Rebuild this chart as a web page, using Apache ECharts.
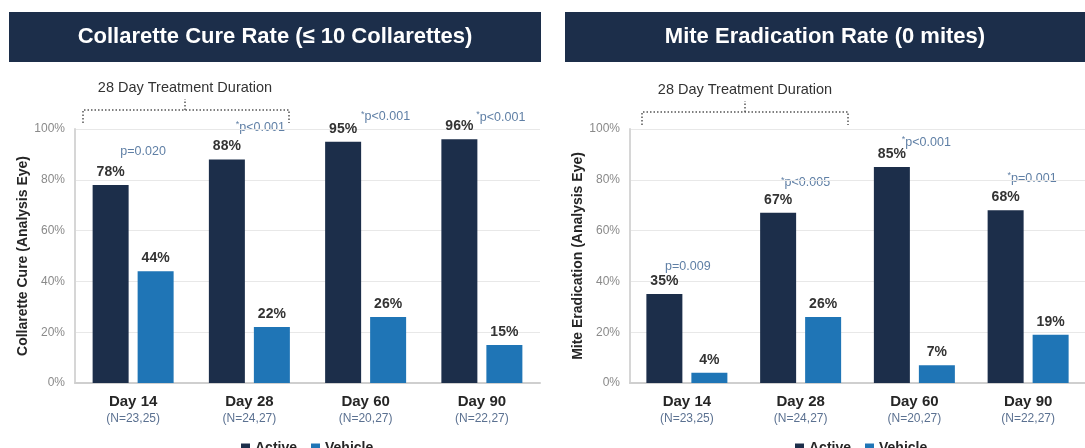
<!DOCTYPE html>
<html>
<head>
<meta charset="utf-8">
<script src="https://cdn.jsdelivr.net/npm/echarts@6/dist/echarts.min.js"></script>
<style>
    html, body { margin: 0; padding: 0; background: #fff; }
    #chart { width: 1085px; height: 448px; }
</style>
</head>
<body>
<div id="chart"></div>
<script>
    const categories = ['Day 14', 'Day 28', 'Day 60', 'Day 90']
    const nLabels = ['(N=23,25)', '(N=24,27)', '(N=20,27)', '(N=22,27)']
    const cureActive = [78, 88, 95, 96]
    const cureVehicle = [44, 22, 26, 15]
    const miteActive = [35, 67, 85, 68]
    const miteVehicle = [4, 26, 7, 19]
    const cureP = ['p=0.020', '*p<0.001', '*p<0.001', '*p<0.001']
    const miteP = ['p=0.009', '*p<0.005', '*p<0.001', '*p=0.001']

    const NAVY = '#1c2e4a'
    const BLUE = '#1f75b6'
    const FONT = 'Liberation Sans, Arial, sans-serif'

    // offsets of the p-value text: [dx from group centre, px above the active bar top]
    const cureOff = [[10, 33], [11, 32], [20, 25], [19, 22]]
    const miteOff = [[1, 28], [5, 30], [12, 25], [4, 32]]

    const myChart = echarts.init(document.getElementById('chart'))

    function xAxis (gridIndex) {
        return {
            type: 'category',
            gridIndex: gridIndex,
            data: categories,
            axisTick: { show: false },
            axisLine: { lineStyle: { color: '#cfcfcf', width: 2 } },
            axisLabel: {
                margin: 10,
                formatter: (v, i) => '{d|' + v + '}\n{n|' + nLabels[i] + '}',
                rich: {
                    d: { fontFamily: FONT, fontSize: 15, fontWeight: 'bold', color: '#262626', lineHeight: 18 },
                    n: { fontFamily: FONT, fontSize: 12, color: '#5b7191', lineHeight: 16 }
                }
            }
        }
    }

    function yAxis (gridIndex, name, gap) {
        return {
            type: 'value',
            gridIndex: gridIndex,
            min: 0,
            max: 100,
            interval: 20,
            name: name,
            nameLocation: 'middle',
            nameGap: gap,
            nameTextStyle: { fontFamily: FONT, fontSize: 14, fontWeight: 'bold', color: '#262626' },
            axisLine: { show: true, lineStyle: { color: '#d6d6d6', width: 2 } },
            axisTick: { show: false },
            axisLabel: { formatter: '{value}%', margin: 10, fontFamily: FONT, fontSize: 12, color: '#8a8a8a' },
            splitLine: { lineStyle: { color: '#e8e8e8' } }
        }
    }

    function bars (name, data, color, idx) {
        return {
            name: name,
            type: 'bar',
            xAxisIndex: idx,
            yAxisIndex: idx,
            data: data,
            barWidth: 36,
            barGap: '25%',
            itemStyle: { color: color },
            label: {
                show: true,
                position: 'top',
                distance: 6,
                formatter: '{c}%',
                fontFamily: FONT,
                fontSize: 14,
                fontWeight: 'bold',
                color: '#333'
            }
        }
    }

    function legend (left) {
        return {
            data: ['Active', 'Vehicle'],
            left: left,
            top: 436,
            icon: 'rect',
            itemWidth: 9,
            itemHeight: 9,
            itemGap: 14,
            selectedMode: false,
            textStyle: { fontFamily: FONT, fontSize: 14, fontWeight: 'bold', color: '#262626' }
        }
    }

    function banner (id, x, w, text) {
        return [{
            id: id + 'bg',
            type: 'rect',
            shape: { x: x, y: 12, width: w, height: 50 },
            style: { fill: NAVY }
        }, {
            id: id + 'txt',
            type: 'text',
            x: x + w / 2,
            y: 37,
            style: {
                text: text, fill: '#fff', font: 'bold 22px ' + FONT,
                textAlign: 'center', textVerticalAlign: 'middle'
            }
        }]
    }

    function bracket (id, x1, x2, xc, y) {
        let line = { stroke: '#555', lineWidth: 1.5, lineDash: [1.5, 2], fill: null }
        return [{
            id: id + 'a',
            type: 'polyline',
            shape: { points: [[x1, y + 13], [x1, y], [x2, y], [x2, y + 13]] },
            style: line
        }, {
            id: id + 'b',
            type: 'polyline',
            shape: { points: [[xc, y], [xc, y - 11]] },
            style: line
        }, {
            id: id + 't',
            type: 'text',
            x: xc,
            y: y - 22,
            style: {
                text: '28 Day Treatment Duration', fill: '#333', font: '14.5px ' + FONT,
                textAlign: 'center', textVerticalAlign: 'middle'
            }
        }]
    }

    let option = {
        animation: false,
        grid: [
            { left: 75, top: 129, width: 465, height: 254 },
            { left: 630, top: 129, width: 465, height: 254 }
        ],
        legend: [legend(236), legend(790)],
        xAxis: [xAxis(0), xAxis(1)],
        yAxis: [
            yAxis(0, 'Collarette Cure (Analysis Eye)', 44),
            yAxis(1, 'Mite Eradication (Analysis Eye)', 35)
        ],
        series: [
            bars('Active', cureActive, NAVY, 0),
            bars('Vehicle', cureVehicle, BLUE, 0),
            bars('Active', miteActive, NAVY, 1),
            bars('Vehicle', miteVehicle, BLUE, 1)
        ],
        graphic: [].concat(
            banner('b1', 9, 532, 'Collarette Cure Rate (≤ 10 Collarettes)'),
            banner('b2', 565, 520, 'Mite Eradication Rate (0 mites)'),
            bracket('k1', 83, 289, 185, 110),
            bracket('k2', 642, 848, 745, 112)
        )
    }
    myChart.setOption(option)

    // p-value notes, placed from the axes
    let notes = []
    function addNotes (gridIndex, texts, values, offs) {
        texts.forEach((t, i) => {
            let pt = myChart.convertToPixel({ gridIndex: gridIndex }, [i, values[i]])
            let star = t.charAt(0) === '*'
            notes.push({
                id: 'p' + gridIndex + '_' + i,
                type: 'text',
                x: pt[0] + offs[i][0],
                y: pt[1] - offs[i][1],
                style: {
                    text: star ? '{s|*}{t|' + t.slice(1) + '}' : '{t|' + t + '}',
                    textAlign: 'center',
                    textVerticalAlign: 'middle',
                    rich: {
                        s: { fontFamily: FONT, fontSize: 9, fill: '#5f7fa5', padding: [0, 0, 5, 0] },
                        t: { fontFamily: FONT, fontSize: 12.5, fill: '#5f7fa5' }
                    }
                }
            })
        })
    }
    addNotes(0, cureP, cureActive, cureOff)
    addNotes(1, miteP, miteActive, miteOff)
    myChart.setOption({ graphic: notes })
</script>
</body>
</html>
